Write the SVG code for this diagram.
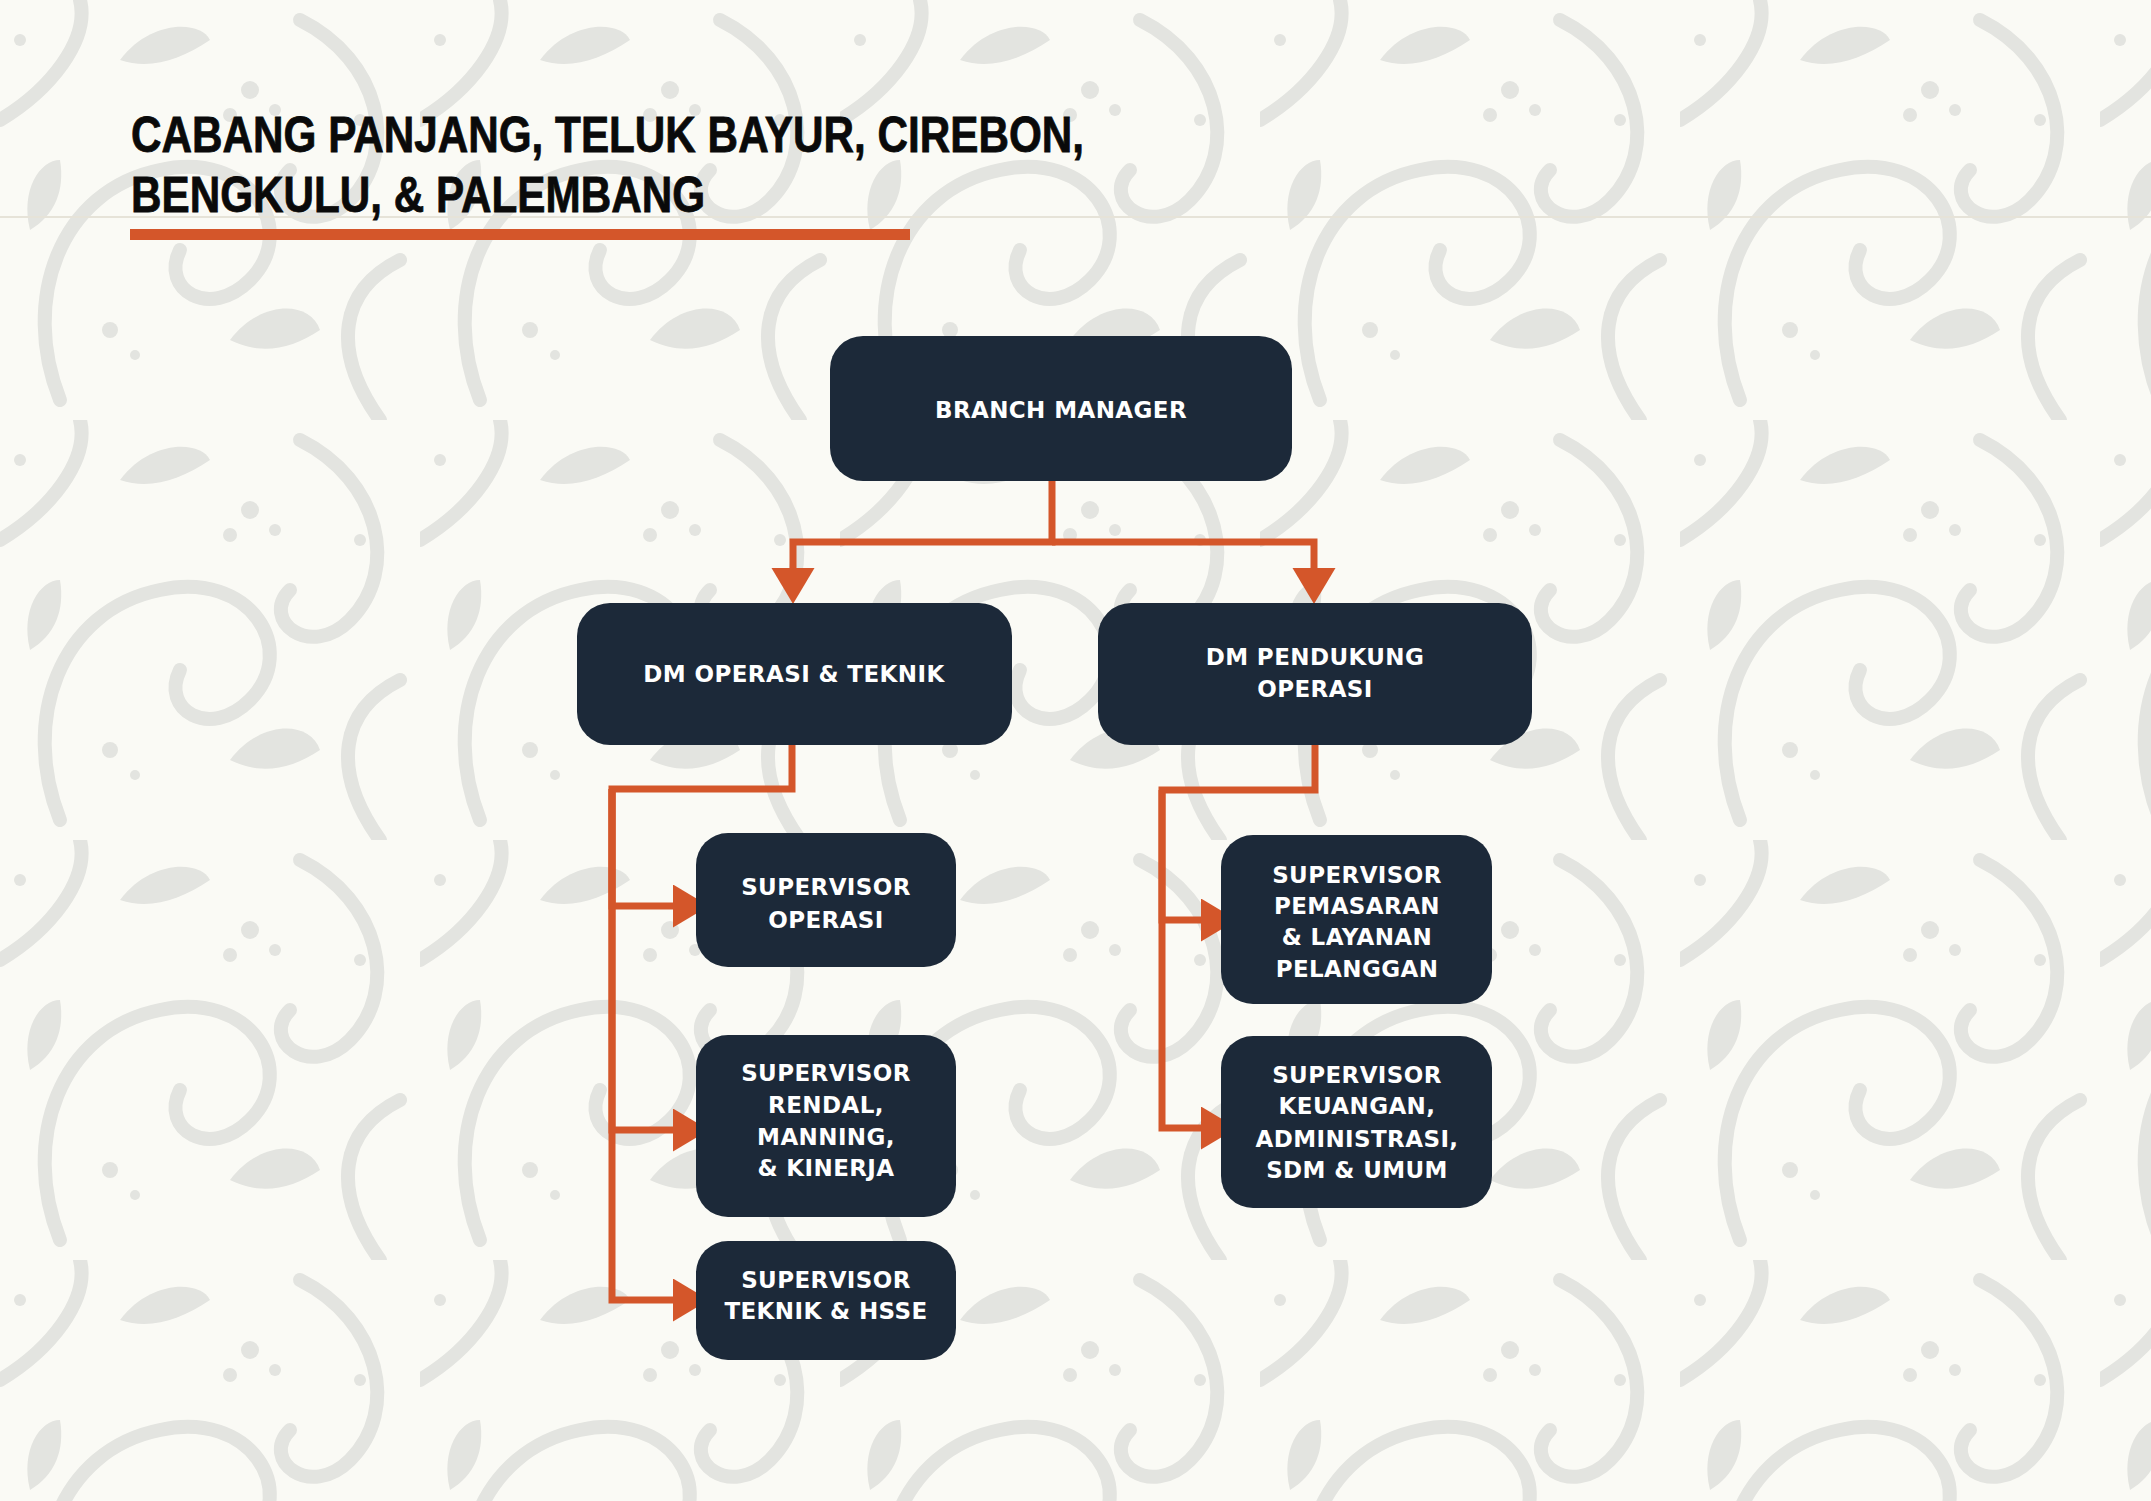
<svg xmlns="http://www.w3.org/2000/svg" width="2151" height="1501" viewBox="0 0 2151 1501">
  <defs>
    <style>
      .bg { fill: #FAFAF5; }
      .orn { fill: none; stroke: #E3E4E0; stroke-width: 14; stroke-linecap: round; }
      .ornf { fill: #E3E4E0; }
      .title { font-family: "Liberation Sans", Arial, sans-serif; font-weight: bold; font-size: 50px; fill: #0A0A0A; stroke: #0A0A0A; stroke-width: 0.8px; }
      .box { fill: #1C2939; }
      .lbl { font-family: "DejaVu Sans", "Liberation Sans", sans-serif; font-weight: bold; font-size: 23px; fill: #FFFFFF; text-anchor: middle; letter-spacing: 0.4px; }
      .conn { fill: none; stroke: #D4562A; stroke-width: 7; stroke-linejoin: miter; }
    </style>
    <marker id="arrow" markerUnits="userSpaceOnUse" markerWidth="38" markerHeight="44" refX="7" refY="21.5" orient="auto">
      <path d="M0,0 L36,21.5 L0,43 Z" fill="#D4562A"/>
    </marker>
    <pattern id="floral" patternUnits="userSpaceOnUse" width="420" height="420">
      <path class="orn" d="M60 400 C20 300 60 190 160 170 C250 150 300 230 250 280 C210 320 160 290 180 250"/>
      <path class="orn" d="M300 20 C380 60 400 150 350 200 C310 240 260 200 290 170"/>
      <path class="orn" d="M380 420 C330 350 340 290 400 260"/>
      <path class="orn" d="M0 120 C50 90 90 40 80 0"/>
      <path class="ornf" d="M120 60 C150 20 200 20 210 40 C180 60 150 70 120 60 Z"/>
      <path class="ornf" d="M230 340 C260 300 310 300 320 330 C290 350 260 355 230 340 Z"/>
      <path class="ornf" d="M30 230 C20 190 40 160 60 160 C65 190 55 215 30 230 Z"/>
      <circle class="ornf" cx="250" cy="90" r="9"/>
      <circle class="ornf" cx="275" cy="110" r="6"/>
      <circle class="ornf" cx="230" cy="115" r="7"/>
      <circle class="ornf" cx="110" cy="330" r="8"/>
      <circle class="ornf" cx="135" cy="355" r="5"/>
      <circle class="ornf" cx="360" cy="120" r="6"/>
      <circle class="ornf" cx="20" cy="40" r="6"/>
    </pattern>
  </defs>

  <g id="background">
    <rect class="bg" x="0" y="0" width="2151" height="1501"/>
    <rect x="0" y="0" width="2151" height="1501" fill="url(#floral)"/>
    <line x1="0" y1="217" x2="2151" y2="217" stroke="#E6E3D8" stroke-width="2"/>
  </g>

  <g id="title">
    <text class="title" x="131" y="152" textLength="953" lengthAdjust="spacingAndGlyphs">CABANG PANJANG, TELUK BAYUR, CIREBON,</text>
    <text class="title" x="131" y="212" textLength="574" lengthAdjust="spacingAndGlyphs">BENGKULU, &amp; PALEMBANG</text>
    <rect x="130" y="229" width="780" height="11" fill="#D4562A"/>
  </g>

  <g id="connectors">
    <path class="conn" d="M1052 481 V542 H793 V575" marker-end="url(#arrow)"/>
    <path class="conn" d="M1052 542 H1314 V575" marker-end="url(#arrow)"/>
    <path class="conn" d="M792 745 V789 H612 V906 H680" marker-end="url(#arrow)"/>
    <path class="conn" d="M612 789 V1130 H680" marker-end="url(#arrow)"/>
    <path class="conn" d="M612 789 V1300 H680" marker-end="url(#arrow)"/>
    <path class="conn" d="M1315 745 V790 H1162 V920 H1208" marker-end="url(#arrow)"/>
    <path class="conn" d="M1162 790 V1128 H1208" marker-end="url(#arrow)"/>
  </g>

  <g id="branch-manager">
    <rect class="box" x="830" y="336" width="462" height="145" rx="33"/>
    <text class="lbl" x="1061" y="418">BRANCH MANAGER</text>
  </g>

  <g id="dm-operasi-teknik">
    <rect class="box" x="577" y="603" width="435" height="142" rx="33"/>
    <text class="lbl" x="794" y="682">DM OPERASI &amp; TEKNIK</text>
  </g>

  <g id="dm-pendukung-operasi">
    <rect class="box" x="1098" y="603" width="434" height="142" rx="33"/>
    <text class="lbl" x="1315" y="665">DM PENDUKUNG</text>
    <text class="lbl" x="1315" y="697">OPERASI</text>
  </g>

  <g id="supervisor-operasi">
    <rect class="box" x="696" y="833" width="260" height="134" rx="32"/>
    <text class="lbl" x="826" y="895">SUPERVISOR</text>
    <text class="lbl" x="826" y="928">OPERASI</text>
  </g>

  <g id="supervisor-rendal">
    <rect class="box" x="696" y="1035" width="260" height="182" rx="32"/>
    <text class="lbl" x="826" y="1081">SUPERVISOR</text>
    <text class="lbl" x="826" y="1113">RENDAL,</text>
    <text class="lbl" x="826" y="1145">MANNING,</text>
    <text class="lbl" x="826" y="1176">&amp; KINERJA</text>
  </g>

  <g id="supervisor-teknik-hsse">
    <rect class="box" x="696" y="1241" width="260" height="119" rx="32"/>
    <text class="lbl" x="826" y="1288">SUPERVISOR</text>
    <text class="lbl" x="826" y="1319">TEKNIK &amp; HSSE</text>
  </g>

  <g id="supervisor-pemasaran">
    <rect class="box" x="1221" y="835" width="271" height="169" rx="32"/>
    <text class="lbl" x="1357" y="883">SUPERVISOR</text>
    <text class="lbl" x="1357" y="914">PEMASARAN</text>
    <text class="lbl" x="1357" y="945">&amp; LAYANAN</text>
    <text class="lbl" x="1357" y="977">PELANGGAN</text>
  </g>

  <g id="supervisor-keuangan">
    <rect class="box" x="1221" y="1036" width="271" height="172" rx="32"/>
    <text class="lbl" x="1357" y="1083">SUPERVISOR</text>
    <text class="lbl" x="1357" y="1114">KEUANGAN,</text>
    <text class="lbl" x="1357" y="1147">ADMINISTRASI,</text>
    <text class="lbl" x="1357" y="1178">SDM &amp; UMUM</text>
  </g>
</svg>
